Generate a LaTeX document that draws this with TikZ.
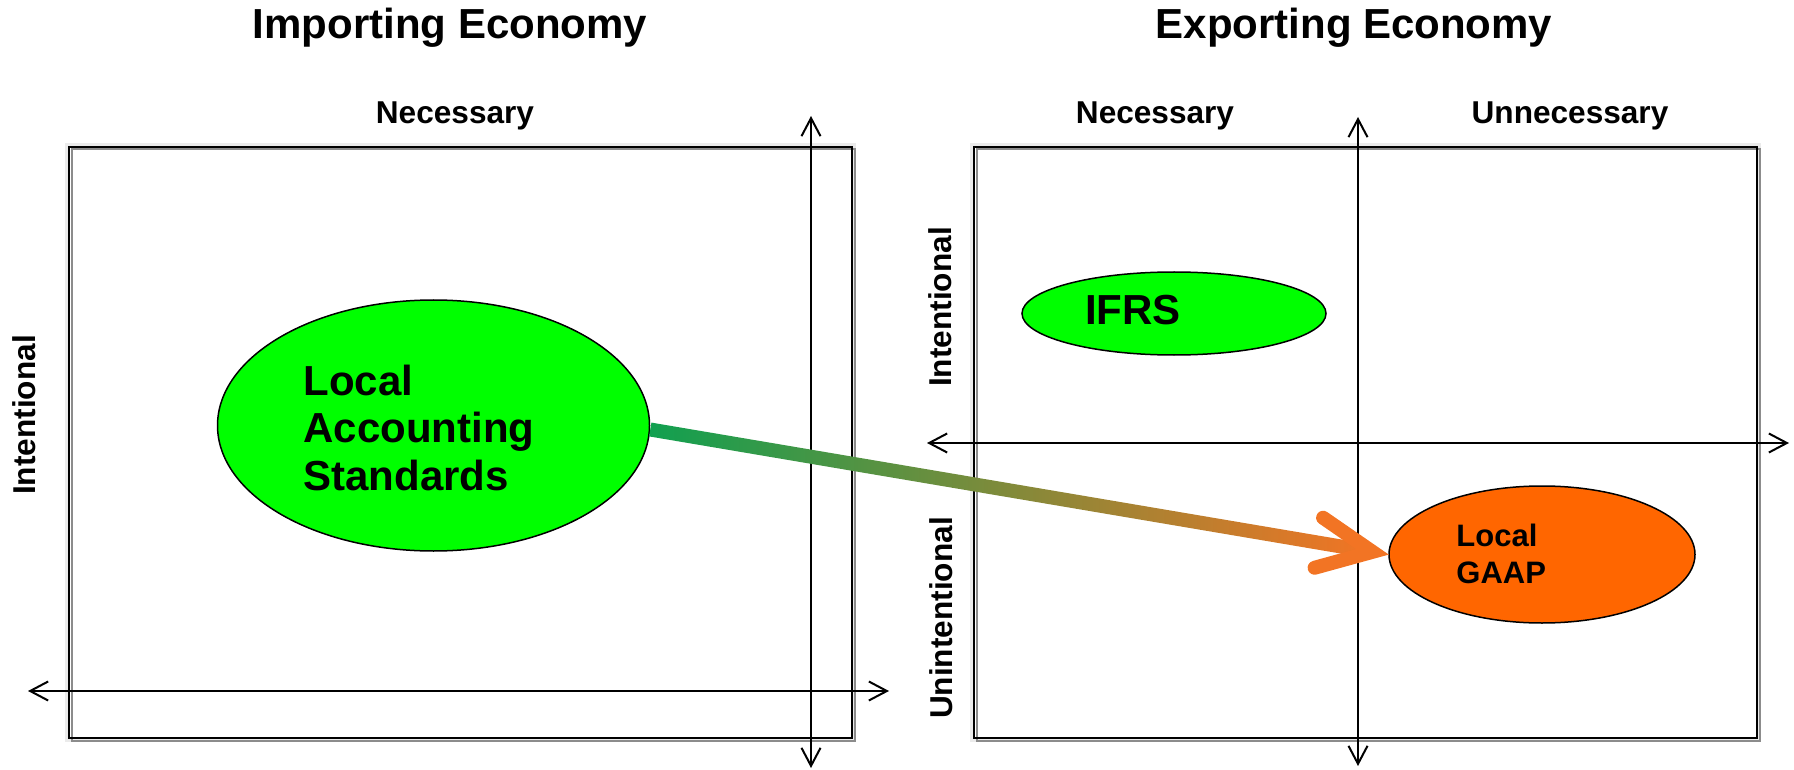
\documentclass[tikz,border=0pt]{standalone}
\usepackage{fontspec}
\setmainfont{Liberation Sans}
\usetikzlibrary{arrows.meta,shapes.geometric,calc}
\definecolor{brightgreen}{RGB}{0,255,0}
\definecolor{gaaporange}{RGB}{255,102,0}
\definecolor{arrowgreen}{RGB}{16,160,80}
\definecolor{arroworange}{RGB}{242,116,36}
\tikzset{
  quadbox/.style={draw=black, line width=1pt},
  boxshadow/.style={draw=black!45, line width=1pt},
  boxhalo/.style={draw=black!8, line width=1.5pt},
  axis/.style={draw=black, line width=1pt, {Straight Barb[length=9pt,width=9.5pt,line width=1pt]}-{Straight Barb[length=9pt,width=9.5pt,line width=1pt]}},
  blob/.style={ellipse, draw=black, line width=0.75pt, inner sep=0pt},
  title/.style={font=\bfseries\fontsize{21}{25}\selectfont, inner sep=0pt, anchor=base},
  axlabel/.style={font=\bfseries\fontsize{15.8}{19}\selectfont, inner sep=0pt, anchor=base},
  bigtext/.style={font=\bfseries\fontsize{21}{23.75}\selectfont, inner sep=0pt, align=left},
  smalltext/.style={font=\bfseries\fontsize{15.5}{18.5}\selectfont, inner sep=0pt, align=left},
  chevron/.style={draw=arroworange, line width=7pt, line cap=round, line join=miter}
}
\begin{document}
\begin{tikzpicture}[x=0.5pt,y=-0.5pt]
\useasboundingbox (0,0) rectangle (1794,770);

% titles
\node[title] (t1) at (450,39) {Importing Economy};
\node[title] (t2) at (1354,39) {Exporting Economy};

% left box
\draw[boxhalo] (66.5,144.5) rectangle (854.5,740.5);
\draw[boxshadow] (71.5,149.5) rectangle (855,741);
\draw[quadbox] (69,147) rectangle (852,738);
% right box
\draw[boxhalo] (971.5,144.5) rectangle (1759.5,740.5);
\draw[boxshadow] (976.5,149.5) rectangle (1760,741);
\draw[quadbox] (974,147) rectangle (1757,738);

% axis end points
\coordinate (lvT) at (811,116);
\coordinate (lvB) at (811,768);
\coordinate (lhL) at (28,691);
\coordinate (lhR) at (889,691);
\coordinate (rvT) at (1358,117);
\coordinate (rvB) at (1358,766);
\coordinate (rhL) at (927,443);
\coordinate (rhR) at (1789,443);
\draw[axis] (lvB) -- (lvT);
\draw[axis] (lhL) -- (lhR);
\draw[axis] (rvB) -- (rvT);
\draw[axis] (rhL) -- (rhR);

% axis labels
\node[axlabel] (n1) at (455,124) {Necessary};
\node[axlabel] (n2) at (1155,124) {Necessary};
\node[axlabel] (u2) at (1570,124) {Unnecessary};
\node[axlabel, rotate=90] (i1) at (35,415) {Intentional};
\node[axlabel, rotate=90] (i2) at (951,307) {Intentional};
\node[axlabel, rotate=90] (ui2) at (952,618) {Unintentional};

% ellipses
\node[blob, fill=brightgreen, minimum width=216pt, minimum height=125.5pt] (ls) at (433.5,425.5) {};
\node[blob, fill=brightgreen, minimum width=152pt, minimum height=41.5pt] (ifrs) at (1174,313.5) {};
\node[blob, fill=gaaporange, minimum width=153pt, minimum height=68.5pt] (gaap) at (1542,554.5) {};

\node[bigtext, anchor=base west] (lstext) at (303,490) {Local\\Accounting\\Standards};
\node[bigtext, anchor=base] (ifrstext) at (1133,325) {IFRS};
\node[smalltext, anchor=base west] (gaaptext) at (1456,583) {Local\\GAAP};

% gradient arrow
\coordinate (s) at ($(ls.east)+(0,4)$);
\coordinate (tip) at ($(gaap.west)!8pt!(s)$);
\coordinate (shaftend) at ($(tip)!3pt!(s)$);
\shade[left color=arrowgreen, right color=arroworange]
  ($(s)!3.5pt!90:(shaftend)$) -- ($(shaftend)!3.5pt!-90:(s)$) --
  ($(shaftend)!3.5pt!90:(s)$) -- ($(s)!3.5pt!-90:(shaftend)$) -- cycle;
\draw[chevron] ($(tip)!30pt!25:(s)$) -- (tip) -- ($(tip)!30pt!-25:(s)$);
\end{tikzpicture}
\end{document}
